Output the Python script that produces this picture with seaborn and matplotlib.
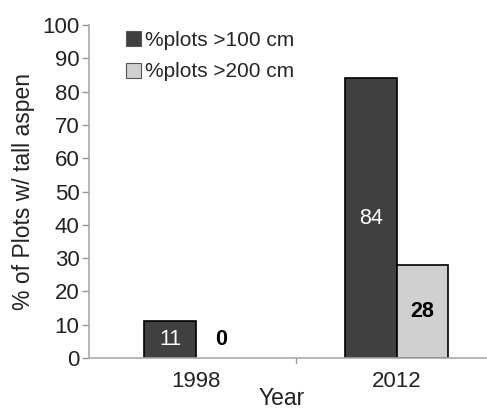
import matplotlib

matplotlib.use("Agg")

import matplotlib.pyplot as plt
import pandas as pd
import seaborn as sns
from matplotlib.patches import Patch

years = ["1998", "2012"]
series = ["%plots >100 cm", "%plots >200 cm"]
pct_100 = [11, 84]
pct_200 = [0, 28]
colors = ["#404040", "#d0d0d0"]

df = pd.DataFrame({
    "Year": years * 2,
    "series": [series[0]] * 2 + [series[1]] * 2,
    "value": pct_100 + pct_200,
})

sns.set_theme(style="white")
plt.rcParams["font.family"] = ["Liberation Sans", "DejaVu Sans"]

fig = plt.figure(figsize=(4.87, 4.12), dpi=100)
ax = fig.add_axes([0.183, 0.131, 0.817, 0.808])

sns.barplot(data=df, x="Year", y="value", hue="series", palette=colors,
            width=0.51, edgecolor="black", linewidth=1.2, ax=ax, legend=False)

# value labels, placed at mid-height like the original
for patch, val, (col, bold) in zip(
    ax.patches,
    pct_100 + pct_200,
    [("white", False), ("white", False), ("black", True), ("black", True)],
):
    if val == 0:
        patch.set_linewidth(0)
    x = patch.get_x() + patch.get_width() / 2
    y = val / 2 if val > 0 else 5.5
    ax.text(x, y, str(val), ha="center", va="center", fontsize=15.5,
            color=col, fontweight="bold" if bold else "normal")

ax.set_ylim(0, 100)
ax.set_yticks(range(0, 101, 10))
ax.set_xlim(-0.53, 1.45)
ax.set_xticks([0, 0.5, 1])
ax.set_xticklabels(["1998", "", "2012"])
ax.tick_params(axis="y", length=5, width=1, color="#999999", labelsize=16,
               labelcolor="#222222", left=True, pad=2)
ax.tick_params(axis="x", length=0, labelsize=16, labelcolor="#222222", pad=9)
ax.plot([0.5, 0.5], [0, -1.6], color="#999999", lw=1, clip_on=False)

for s in ["top", "right"]:
    ax.spines[s].set_visible(False)
for s in ["left", "bottom"]:
    ax.spines[s].set_color("#aaaaaa")
    ax.spines[s].set_linewidth(1.2)

ax.set_ylabel("% of Plots w/ tall aspen", fontsize=16.5, color="#222222", labelpad=5)
ax.set_xlabel("Year", fontsize=16.5, color="#222222")
ax.xaxis.set_label_coords(0.485, -0.088)

handles = [Patch(facecolor=c, edgecolor="#555555", linewidth=0.8) for c in colors]
ax.legend(handles, series, loc="upper left", bbox_to_anchor=(0.045, 1.04),
          frameon=False, fontsize=15, handlelength=0.75, handleheight=0.75,
          handletextpad=0.15, labelspacing=0.62)

fig.savefig("out.png", dpi=100)
